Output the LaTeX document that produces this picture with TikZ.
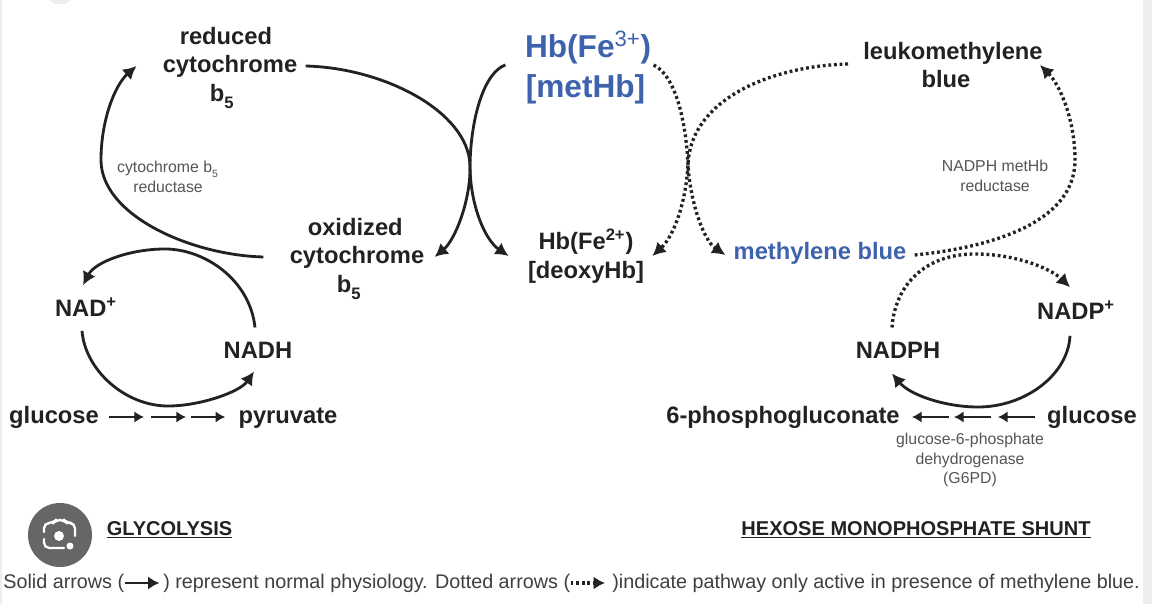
\documentclass[tikz,border=0pt]{standalone}
\usepackage{fontspec}
\setmainfont{Liberation Sans}
\usepackage{tikz}
\usetikzlibrary{arrows.meta,positioning,calc}
\definecolor{inkblack}{HTML}{222222}
\definecolor{inkgray}{HTML}{555555}
\definecolor{captiongray}{HTML}{3F3F3F}
\definecolor{hbblue}{HTML}{3E63AC}
\definecolor{edgegray}{HTML}{EEEEEE}
\definecolor{lensgray}{HTML}{666666}
\newcommand{\subfive}{\raisebox{-0.3ex}{\textsubscript{5}}}

\begin{document}
\begin{tikzpicture}[
    x=0.02cm, y=-0.02cm,
    metabolite/.style={inner sep=0pt, align=center, text=inkblack, font=\bfseries\fontsize{13.5}{16.2}\selectfont},
    bluelabel/.style={inner sep=0pt, align=center, text=hbblue, font=\bfseries\fontsize{18}{22.8}\selectfont},
    enzyme/.style={inner sep=0pt, align=center, text=inkgray, font=\fontsize{9}{11}\selectfont},
    heading/.style={inner sep=0pt, text=inkblack, font=\bfseries\fontsize{11.4}{13}\selectfont},
    caption/.style={inner sep=0pt, anchor=west, text=captiongray, font=\fontsize{11.25}{13}\selectfont},
    arrow/.style={-{Latex[length=7.5pt,width=8pt]}, line width=1.6pt, inkblack},
    stepline/.style={-{Latex[length=5.5pt,width=6.5pt]}, line width=1.3pt, inkblack},
    dottedarrow/.style={-{Latex[length=7.5pt,width=8pt]}, line width=1.9pt, dash pattern=on 1.6pt off 1.6pt, inkblack},
    legendarrow/.style={-{Latex[length=6.5pt,width=7.5pt]}, line width=1.7pt, inkblack}
]
\useasboundingbox (0,0) rectangle (1152,604);
\fill[white] (0,0) rectangle (1152,604);
\fill[edgegray] (0,0) rectangle (2,604);
\fill[edgegray] (1143,0) rectangle (1152,604);
\fill[edgegray] (60,-14) circle (18);

% Left cycle
\node[metabolite] (reduced) at (230,68) {reduced\hspace*{4.6pt}\\cytochrome\\b\subfive\hspace*{9pt}};
\node[metabolite] (oxidized) at (357,259) {oxidized\hspace*{2pt}\\cytochrome\\b\subfive\hspace*{9pt}};
\node[metabolite] (nadplus) at (86,307) {NAD\textsuperscript{+}};
\node[metabolite] (nadh) at (258,350) {NADH};
\node[metabolite] (glucoseL) at (54,417) {glucose};
\node[metabolite] (pyruvate) at (288,418) {pyruvate};
\node[enzyme] (cytred) at (168,177) {cytochrome b\subfive\\reductase};

% Centre
\node[bluelabel] (methb) at (585.5,67.5) {\hspace*{3pt}Hb(Fe\textsuperscript{\mdseries 3+})\\{}[metHb]};
\node[metabolite] (deoxyhb) at (586,256) {Hb(Fe\textsuperscript{2+})\\{}[deoxyHb]};

% Right cycle
\node[metabolite] (leuko) at (953,65) {leukomethylene\\blue\hspace*{8pt}};
\node[metabolite, text=hbblue] (mblue) at (820,253.5) {methylene blue};
\node[metabolite] (nadpplus) at (1076,310) {NADP\textsuperscript{+}};
\node[metabolite] (nadph) at (898,350) {NADPH};
\node[metabolite] (pgluconate) at (783,417) {6-phosphogluconate};
\node[metabolite] (glucoseR) at (1092,417) {glucose};
\node[enzyme] (nadphred) at (995,176) {NADPH metHb\\reductase};
\node[enzyme] (gsixpd) at (970,460) {glucose-6-phosphate\\dehydrogenase\\(G6PD)};

% Headings
\node[heading] (glycolysis) at (169.5,530) {\underline{GLYCOLYSIS}};
\node[heading] (hmshunt) at (916,530) {\underline{HEXOSE MONOPHOSPHATE SHUNT}};

% Solid curves
\draw[arrow] ([shift={(8,-2)}]reduced.east) .. controls (385,68) and (468,112) .. (470,165) .. controls (471,200) and (455,240) .. ([shift={(10,-2)}]oxidized.east);
\draw[arrow] ([shift={(-14,-2.5)}]methb.west) .. controls (485,72) and (471,115) .. (470,165) .. controls (470,205) and (485,240) .. ([shift={(-19,0)}]deoxyhb.west);
\draw[arrow] ([shift={(-26,-2)}]oxidized.west) .. controls (190,255) and (101,215) .. (101,160) .. controls (101,120) and (115,85) .. ([shift={(-26,-2)}]reduced.west);
\draw[arrow] ([shift={(-3,-14)}]nadh.north) .. controls (250,280) and (205,249) .. (165,249) .. controls (130,249) and (95,262) .. ([shift={(-3,-12)}]nadplus.north);
\draw[arrow] ([shift={(-4,14)}]nadplus.south) .. controls (85,370) and (125,406) .. (168,406) .. controls (200,406) and (240,392) .. ([shift={(-4,13)}]nadh.south);
\draw[arrow] ([shift={(-6,16)}]nadpplus.south) .. controls (1068,375) and (1025,407) .. (978,407) .. controls (945,407) and (910,395) .. ([shift={(-6,15)}]nadph.south);

% Glucose chains
\coordinate (gl1) at (144,417);
\coordinate (gl2) at (151,417);
\coordinate (gl3) at (186,417);
\coordinate (gl4) at (191,417);
\draw[stepline] ([shift={(10,0)}]glucoseL.east) -- (gl1);
\draw[stepline] (gl2) -- (gl3);
\draw[stepline] (gl4) -- ([shift={(-13,-1)}]pyruvate.west);
\coordinate (gr1) at (998,417);
\coordinate (gr2) at (991,417);
\coordinate (gr3) at (954,417);
\coordinate (gr4) at (949,417);
\draw[stepline] ([shift={(-12,0)}]glucoseR.west) -- (gr1);
\draw[stepline] (gr2) -- (gr3);
\draw[stepline] (gr4) -- ([shift={(12,0)}]pgluconate.east);

% Dotted curves
\draw[dottedarrow] ([shift={(2,-2.5)}]methb.east) .. controls (675,75) and (686,120) .. (688,165) .. controls (690,200) and (703,240) .. ([shift={(-8,1.5)}]mblue.west);
\draw[dottedarrow] ([shift={(-15,-1)}]leuko.west) .. controls (770,66) and (690,100) .. (688,165) .. controls (686,200) and (675,235) .. ([shift={(8,0)}]deoxyhb.east);
\draw[dottedarrow] ([shift={(8,1.5)}]mblue.east) .. controls (985,248) and (1075,225) .. (1075,160) .. controls (1075,120) and (1060,85) .. ([shift={(-3,0)}]leuko.east);
\draw[dottedarrow] ([shift={(-6,-14)}]nadph.north) .. controls (895,285) and (925,254) .. (975,254) .. controls (1015,254) and (1050,268) .. ([shift={(-6,-13)}]nadpplus.north);

% Caption line
\node[caption] (capa) at (3,583) {Solid arrows (};
\node[caption] (capb) at (163,583) {) represent normal physiology. Dotted arrows (};
\node[caption] (capc) at (612,583) {)indicate pathway only active in presence of methylene blue.};
\draw[legendarrow] (capa.east) -- ([xshift=-2pt]capb.west);
\draw[legendarrow, line width=1.9pt, dash pattern=on 1.6pt off 1.6pt] (capb.east) -- ([xshift=-4pt]capc.west);

% Lens badge
\fill[lensgray] (60,535) circle (32);
\draw[white, line width=1.3pt, line cap=round, rounded corners=3pt] (44,532) -- (44,523) -- (53,523) -- (56,520) -- (64,520) -- (67,523) -- (75,523) -- (75,536);
\draw[white, line width=1.3pt, line cap=round, rounded corners=3pt] (44,539) -- (44,548) -- (64,548);
\fill[white] (59,536) circle (5);
\fill[white] (70,546) circle (3.5);
\end{tikzpicture}
\end{document}
